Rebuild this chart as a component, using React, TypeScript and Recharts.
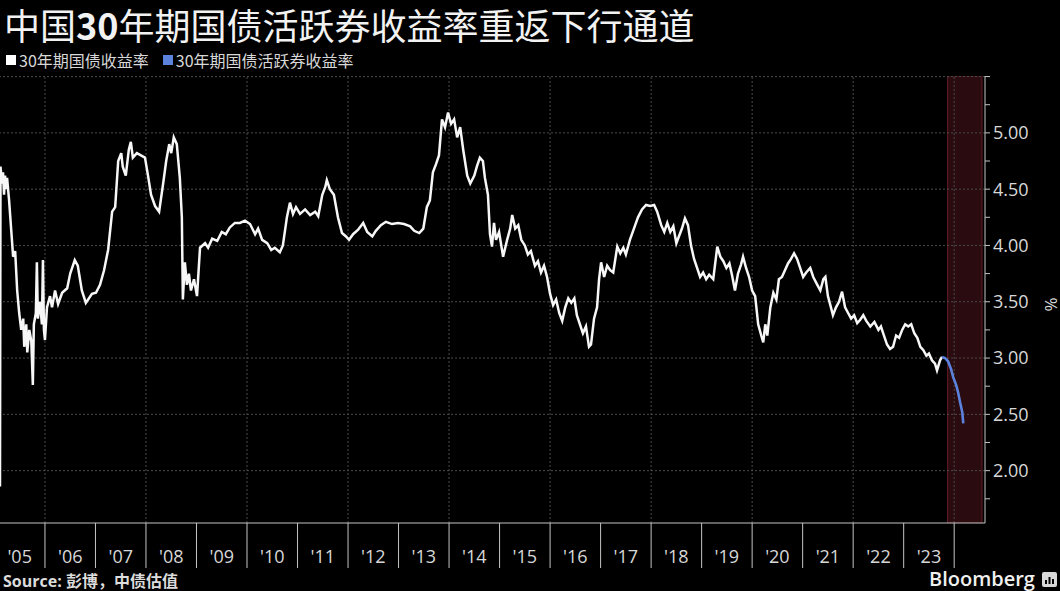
import { Line, LineChart, ReferenceArea, ReferenceLine, XAxis, YAxis } from "recharts";

// 30年期国债收益率 (year fraction, %)
const yield30y: [number, number][] = [
  [2005.11, 1.86], [2005.12, 4.7], [2005.15, 4.55], [2005.17, 4.65], [2005.19, 4.45], [2005.21, 4.62],
  [2005.23, 4.5], [2005.25, 4.6], [2005.29, 4.4], [2005.33, 4.15], [2005.37, 3.9], [2005.41, 3.95],
  [2005.45, 3.6], [2005.49, 3.4], [2005.53, 3.25], [2005.57, 3.35], [2005.59, 3.1], [2005.63, 3.3],
  [2005.65, 3.05], [2005.69, 3.25], [2005.73, 3.15], [2005.76, 2.76], [2005.78, 3.3], [2005.82, 3.4],
  [2005.84, 3.85], [2005.86, 3.35], [2005.9, 3.5], [2005.94, 3.3], [2005.96, 3.87], [2005.98, 3.25],
  [2006.0, 3.16], [2006.04, 3.45], [2006.1, 3.55], [2006.14, 3.45], [2006.2, 3.6], [2006.26, 3.48],
  [2006.34, 3.58], [2006.44, 3.62], [2006.5, 3.75], [2006.59, 3.87], [2006.65, 3.82], [2006.73, 3.6],
  [2006.81, 3.49], [2006.93, 3.57],
  [2007.01, 3.58], [2007.09, 3.65], [2007.17, 3.78], [2007.25, 3.96], [2007.33, 4.3], [2007.39, 4.34],
  [2007.45, 4.75], [2007.51, 4.82], [2007.54, 4.7], [2007.6, 4.62], [2007.66, 4.85], [2007.7, 4.92],
  [2007.74, 4.78], [2007.82, 4.82], [2007.9, 4.8], [2007.98, 4.78],
  [2008.04, 4.62], [2008.1, 4.45], [2008.18, 4.35], [2008.26, 4.3], [2008.34, 4.55], [2008.4, 4.75],
  [2008.46, 4.9], [2008.5, 4.82], [2008.55, 4.96], [2008.61, 4.9], [2008.67, 4.6], [2008.71, 4.25],
  [2008.73, 3.52], [2008.77, 3.85], [2008.81, 3.65], [2008.85, 3.75], [2008.89, 3.6], [2008.95, 3.7],
  [2009.01, 3.55], [2009.07, 3.98], [2009.17, 4.02], [2009.23, 3.98], [2009.31, 4.06], [2009.41, 4.04],
  [2009.5, 4.12], [2009.58, 4.1], [2009.66, 4.16], [2009.76, 4.2], [2009.86, 4.2], [2009.96, 4.22],
  [2010.06, 4.19], [2010.16, 4.1], [2010.22, 4.15], [2010.3, 4.05], [2010.4, 4.02], [2010.48, 3.96],
  [2010.55, 3.98], [2010.65, 3.94], [2010.71, 4.0], [2010.79, 4.25], [2010.85, 4.38], [2010.91, 4.28],
  [2010.97, 4.34],
  [2011.05, 4.28], [2011.15, 4.32], [2011.25, 4.27], [2011.35, 4.3], [2011.41, 4.26], [2011.49, 4.45],
  [2011.55, 4.52], [2011.58, 4.58], [2011.64, 4.5], [2011.72, 4.45], [2011.8, 4.25], [2011.88, 4.11],
  [2011.96, 4.08],
  [2012.02, 4.05], [2012.1, 4.1], [2012.2, 4.14], [2012.3, 4.2], [2012.38, 4.12], [2012.48, 4.08],
  [2012.55, 4.13], [2012.65, 4.18], [2012.75, 4.21], [2012.87, 4.19], [2012.99, 4.2],
  [2013.11, 4.19], [2013.23, 4.17], [2013.31, 4.13], [2013.41, 4.11], [2013.49, 4.15], [2013.56, 4.34],
  [2013.62, 4.4], [2013.68, 4.65], [2013.74, 4.72], [2013.8, 4.8], [2013.86, 5.12], [2013.92, 5.05],
  [2013.98, 5.18],
  [2014.04, 5.08], [2014.1, 5.12], [2014.16, 4.96], [2014.22, 5.05], [2014.28, 4.85], [2014.36, 4.62],
  [2014.42, 4.55], [2014.5, 4.62], [2014.55, 4.7], [2014.61, 4.78], [2014.67, 4.75], [2014.71, 4.6],
  [2014.77, 4.45], [2014.81, 4.1], [2014.85, 3.99], [2014.89, 4.2], [2014.93, 4.05], [2014.99, 4.12],
  [2015.07, 3.9], [2015.15, 4.05], [2015.21, 4.15], [2015.25, 4.27], [2015.31, 4.15], [2015.37, 4.18],
  [2015.43, 4.05], [2015.5, 4.0], [2015.56, 3.92], [2015.62, 3.95], [2015.7, 3.82], [2015.76, 3.86],
  [2015.82, 3.76], [2015.88, 3.82], [2015.94, 3.72],
  [2016.0, 3.57], [2016.06, 3.47], [2016.12, 3.52], [2016.18, 3.4], [2016.24, 3.33], [2016.3, 3.45],
  [2016.36, 3.53], [2016.42, 3.49], [2016.48, 3.53], [2016.53, 3.38], [2016.59, 3.3], [2016.65, 3.22],
  [2016.71, 3.28], [2016.77, 3.1], [2016.81, 3.12], [2016.87, 3.35], [2016.93, 3.45], [2016.97, 3.7],
  [2017.01, 3.85], [2017.07, 3.72], [2017.13, 3.82], [2017.19, 3.78], [2017.25, 3.76], [2017.33, 3.99],
  [2017.39, 3.93], [2017.45, 3.98], [2017.5, 3.92], [2017.58, 4.05], [2017.66, 4.15], [2017.74, 4.25],
  [2017.82, 4.32], [2017.9, 4.36], [2017.98, 4.35],
  [2018.06, 4.36], [2018.12, 4.3], [2018.2, 4.18], [2018.26, 4.12], [2018.32, 4.2], [2018.38, 4.12],
  [2018.44, 4.17], [2018.5, 4.02], [2018.55, 4.08], [2018.61, 4.15], [2018.67, 4.24], [2018.73, 4.18],
  [2018.79, 4.0], [2018.85, 3.88], [2018.91, 3.8], [2018.97, 3.72],
  [2019.03, 3.76], [2019.09, 3.7], [2019.15, 3.74], [2019.23, 3.7], [2019.31, 3.99], [2019.37, 3.9],
  [2019.43, 3.86], [2019.49, 3.8], [2019.55, 3.84], [2019.6, 3.74], [2019.66, 3.6], [2019.72, 3.75],
  [2019.78, 3.83], [2019.82, 3.9], [2019.88, 3.8], [2019.94, 3.72],
  [2020.0, 3.6], [2020.06, 3.55], [2020.12, 3.3], [2020.18, 3.2], [2020.22, 3.14], [2020.26, 3.3],
  [2020.3, 3.2], [2020.36, 3.45], [2020.42, 3.58], [2020.48, 3.52], [2020.53, 3.7], [2020.59, 3.72],
  [2020.65, 3.78], [2020.71, 3.84], [2020.77, 3.88], [2020.83, 3.93], [2020.89, 3.88], [2020.95, 3.8],
  [2021.01, 3.72], [2021.07, 3.76], [2021.15, 3.8], [2021.21, 3.72], [2021.29, 3.65], [2021.35, 3.6],
  [2021.41, 3.7], [2021.45, 3.72], [2021.5, 3.55], [2021.56, 3.45], [2021.6, 3.38], [2021.66, 3.45],
  [2021.72, 3.5], [2021.78, 3.59], [2021.84, 3.45], [2021.9, 3.4], [2021.96, 3.35],
  [2022.02, 3.38], [2022.08, 3.31], [2022.14, 3.34], [2022.2, 3.38], [2022.26, 3.33], [2022.34, 3.28],
  [2022.42, 3.32], [2022.5, 3.25], [2022.55, 3.28], [2022.61, 3.2], [2022.67, 3.12], [2022.73, 3.08],
  [2022.79, 3.1], [2022.85, 3.2], [2022.91, 3.18], [2022.97, 3.25],
  [2023.03, 3.3], [2023.09, 3.28], [2023.15, 3.3], [2023.21, 3.22], [2023.27, 3.18], [2023.33, 3.1],
  [2023.39, 3.07], [2023.45, 3.02], [2023.5, 3.04], [2023.56, 2.98], [2023.62, 2.95], [2023.66, 2.89],
  [2023.72, 2.98], [2023.76, 3.01],
];

// 30年期国债活跃券收益率
const activeYield: [number, number][] = [
  [2023.76, 3.01], [2023.82, 3.0], [2023.88, 2.97], [2023.94, 2.9], [2023.98, 2.83],
  [2024.04, 2.76], [2024.08, 2.69], [2024.12, 2.6], [2024.16, 2.52], [2024.18, 2.42],
];

const yearBounds = [2006, 2007, 2008, 2009, 2010, 2011, 2012, 2013, 2014, 2015, 2016, 2017, 2018, 2019, 2020, 2021, 2022, 2023, 2024];
const gridYears = [2006, 2008, 2010, 2012, 2014, 2016, 2018, 2020, 2022, 2024];
const gridValues = [2, 2.5, 3, 3.5, 4, 4.5, 5, 5.5];
const yTicks = [1.75, 2, 2.25, 2.5, 2.75, 3, 3.25, 3.5, 3.75, 4, 4.25, 4.5, 4.75, 5, 5.25, 5.5];
const shaded = [2023.87, 2024.55];

const X_MIN = 2005.11;
const X_MAX = 2024.61;
const PLOT_W = 985;
const halfYear = PLOT_W / (X_MAX - X_MIN) / 2;

const toRows = (pts: [number, number][]) => pts.map(([t, v]) => ({ t, v }));
const mainData = toRows(yield30y);
const activeData = toRows(activeYield);

const latin = "'Open Sans', 'Noto Sans', sans-serif";
const cjk = "'Noto Sans CJK SC', 'Noto Sans', sans-serif";
const axisColor = "#c4c4c4";
const labelColor = "#d8d8d8";
const gridColor = "#4a4a4a";

function YearTick(props: any) {
  const { x, y, payload } = props;
  const yy = String(payload.value - 1).slice(2);
  return (
    <g>
      <line x1={x} x2={x} y1={y} y2={y + 45} stroke={axisColor} strokeWidth={1} />
      <text x={x - halfYear} y={y + 40} textAnchor="middle" fill={labelColor} fontSize={18} fontFamily={latin}>
        {"'" + yy}
      </text>
    </g>
  );
}

const formatY = (v: number) => (v % 0.5 === 0 && v <= 5 ? v.toFixed(2) : "");

export default function App() {
  return (
    <div style={{ position: "absolute", left: 0, top: 0, width: 1060, height: 591, background: "#000", overflow: "hidden" }}>
      <div style={{ position: "absolute", left: 4, top: 0, height: 50, paddingTop: 2, color: "#f2f2f2", fontFamily: cjk, fontSize: 36, lineHeight: "44px", whiteSpace: "nowrap" }}>
        中国<b>30</b>年期国债活跃券收益率重返下行通道
      </div>
      <div style={{ position: "absolute", left: 6, top: 48, display: "flex", alignItems: "center", color: "#d8d8d8", fontFamily: cjk, fontSize: 16, lineHeight: "24px", whiteSpace: "nowrap" }}>
        <span style={{ width: 10, height: 10, background: "#ffffff", marginRight: 3 }} />
        <span>30年期国债收益率</span>
        <span style={{ width: 10, height: 10, background: "#5b82dc", marginLeft: 14, marginRight: 3 }} />
        <span>30年期国债活跃券收益率</span>
      </div>

      <LineChart
        width={1060}
        height={591}
        margin={{ top: 76, right: 0, bottom: 0, left: 0 }}
        style={{ position: "absolute", left: 0, top: 0 }}
      >
        <ReferenceArea x1={shaded[0]} x2={shaded[1]} fill="#2a0b10" fillOpacity={1} stroke="#641c25" strokeWidth={1} ifOverflow="hidden" />
        {gridValues.map((v) => (
          <ReferenceLine key={"h" + v} y={v} stroke={gridColor} strokeDasharray="2 2" />
        ))}
        {gridYears.map((t) => (
          <ReferenceLine key={"v" + t} x={t} stroke={gridColor} strokeDasharray="2 2" />
        ))}
        <XAxis
          dataKey="t"
          type="number"
          domain={[X_MIN, X_MAX]}
          allowDataOverflow
          ticks={yearBounds}
          interval={0}
          height={68}
          tickSize={0}
          tickMargin={0}
          tickLine={false}
          axisLine={{ stroke: axisColor }}
          tick={<YearTick />}
        />
        <YAxis
          orientation="right"
          type="number"
          domain={[1.535, 5.505]}
          allowDataOverflow
          ticks={yTicks}
          interval={0}
          width={75}
          tickSize={5}
          tickMargin={3}
          axisLine={{ stroke: axisColor }}
          tickLine={{ stroke: axisColor }}
          tick={{ fill: labelColor, fontSize: 18, fontFamily: latin }}
          tickFormatter={formatY}
        />
        <Line data={mainData} dataKey="v" type="linear" stroke="#f7f7f7" strokeWidth={2.5} dot={false} isAnimationActive={false} />
        <Line data={activeData} dataKey="v" type="linear" stroke="#5b82dc" strokeWidth={2.6} dot={false} isAnimationActive={false} />
      </LineChart>

      <div style={{ position: "absolute", left: 1044, top: 293, color: labelColor, fontFamily: latin, fontSize: 17, transform: "rotate(90deg)" }}>%</div>

      <div style={{ position: "absolute", left: 3, top: 568, color: "#dcdcdc", fontSize: 16, lineHeight: "24px", whiteSpace: "nowrap", fontWeight: 700 }}>
        <span style={{ fontFamily: latin }}>Source: </span>
        <span style={{ fontFamily: cjk }}>彭博，中债估值</span>
      </div>
      <div style={{ position: "absolute", left: 929, top: 565, color: "#f0f0f0", fontFamily: latin, fontSize: 20, fontWeight: 600, lineHeight: "28px" }}>
        Bloomberg
      </div>
      <svg style={{ position: "absolute", left: 1042, top: 572 }} width={15} height={15}>
        <rect x={0} y={0} width={15} height={15} rx={2} fill="#d8d8d8" />
        <rect x={3} y={8} width={2} height={4} fill="#000" />
        <rect x={6.5} y={5} width={2} height={7} fill="#000" />
        <rect x={10} y={7} width={2} height={5} fill="#000" />
      </svg>
    </div>
  );
}
